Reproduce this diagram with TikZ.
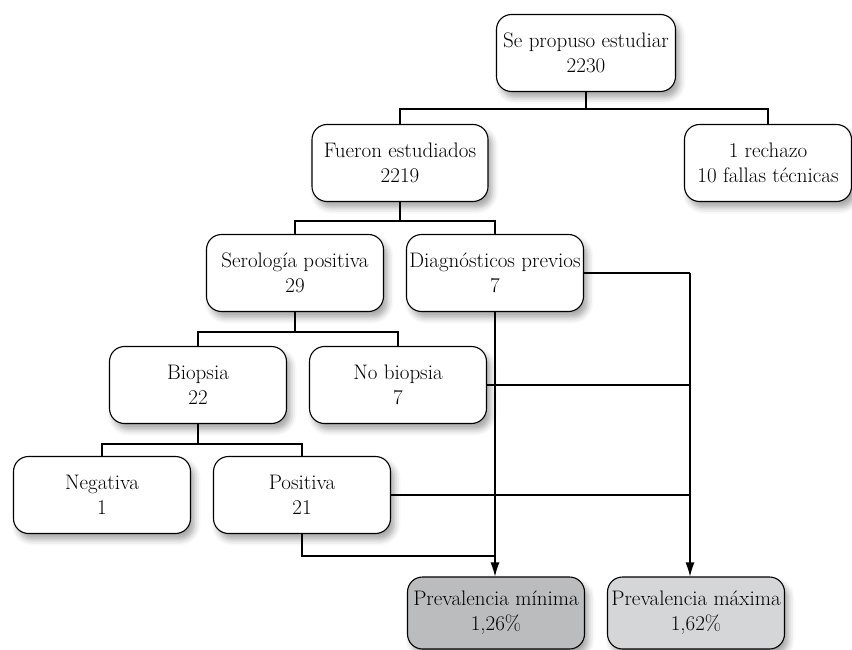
\documentclass[tikz,border=0pt]{standalone}
\usepackage{fontspec}
\usetikzlibrary{arrows.meta,shadows.blur}
\definecolor{minfill}{HTML}{BBBCBE}
\definecolor{maxfill}{HTML}{D5D6D8}
\begin{document}
\begin{tikzpicture}[x=1pt,y=-1pt,
  box/.style={draw=black, line width=1.1pt, rounded corners=15pt, fill=white,
    minimum width=177pt, minimum height=77pt, align=center, inner sep=2pt,
    font=\fontsize{21}{25}\selectfont,
    blur shadow={shadow xshift=4pt, shadow yshift=-6pt, shadow blur radius=6pt, shadow opacity=35}},
  conn/.style={line width=1.1pt, draw=black},
  arr/.style={conn, -{Latex[length=14pt,width=9pt]}}]
\useasboundingbox (0,0) rectangle (852,650);
\node[box, minimum width=179pt] (top) at (586,53) {Se propuso estudiar\\2230};
\node[box, minimum width=176pt] (fue) at (400,163) {Fueron estudiados\\2219};
\node[box, minimum width=167pt] (rec) at (768,163) {1 rechazo\\10 fallas técnicas};
\node[box] (sero) at (295,273) {Serología positiva\\29};
\node[box] (diag) at (495,273) {Diagnósticos previos\\7};
\node[box] (bio) at (198,385) {Biopsia\\22};
\node[box] (nob) at (398,385) {No biopsia\\7};
\node[box] (neg) at (102,495) {Negativa\\1};
\node[box] (pos) at (302,495) {Positiva\\21};
\node[box, fill=minfill, minimum height=72pt] (pmin) at (496,613) {Prevalencia mínima\\1,26\%};
\node[box, fill=maxfill, minimum height=72pt] (pmax) at (696,613) {Prevalencia máxima\\1,62\%};
% tree connectors
\draw[conn] (top.south) -- (top.south |- 0,109);
\draw[conn] (fue.north) |- (586,109) -| (rec.north);
\draw[conn] (fue.south) -- (400,221);
\draw[conn] (sero.north) |- (400,221) -| (diag.north);
\draw[conn] (sero.south) -- (sero.south |- 0,332);
\draw[conn] (bio.north) |- (295,332) -| (nob.north);
\draw[conn] (bio.south) -- (bio.south |- 0,444);
\draw[conn] (neg.north) |- (198,444) -| (pos.north);
% to prevalence
\coordinate (vx) at (690,273);
\draw[conn] (diag.east) -- (vx);
\draw[arr] (vx) -- (vx |- pmax.north);
\draw[conn] (nob.east) -- (nob.east -| vx);
\draw[conn] (pos.east) -- (pos.east -| vx);
\draw[arr] (diag.south) -- (diag.south |- pmin.north);
\draw[conn] (pos.south) |- (diag.south |- 0,556);
\end{tikzpicture}
\end{document}
